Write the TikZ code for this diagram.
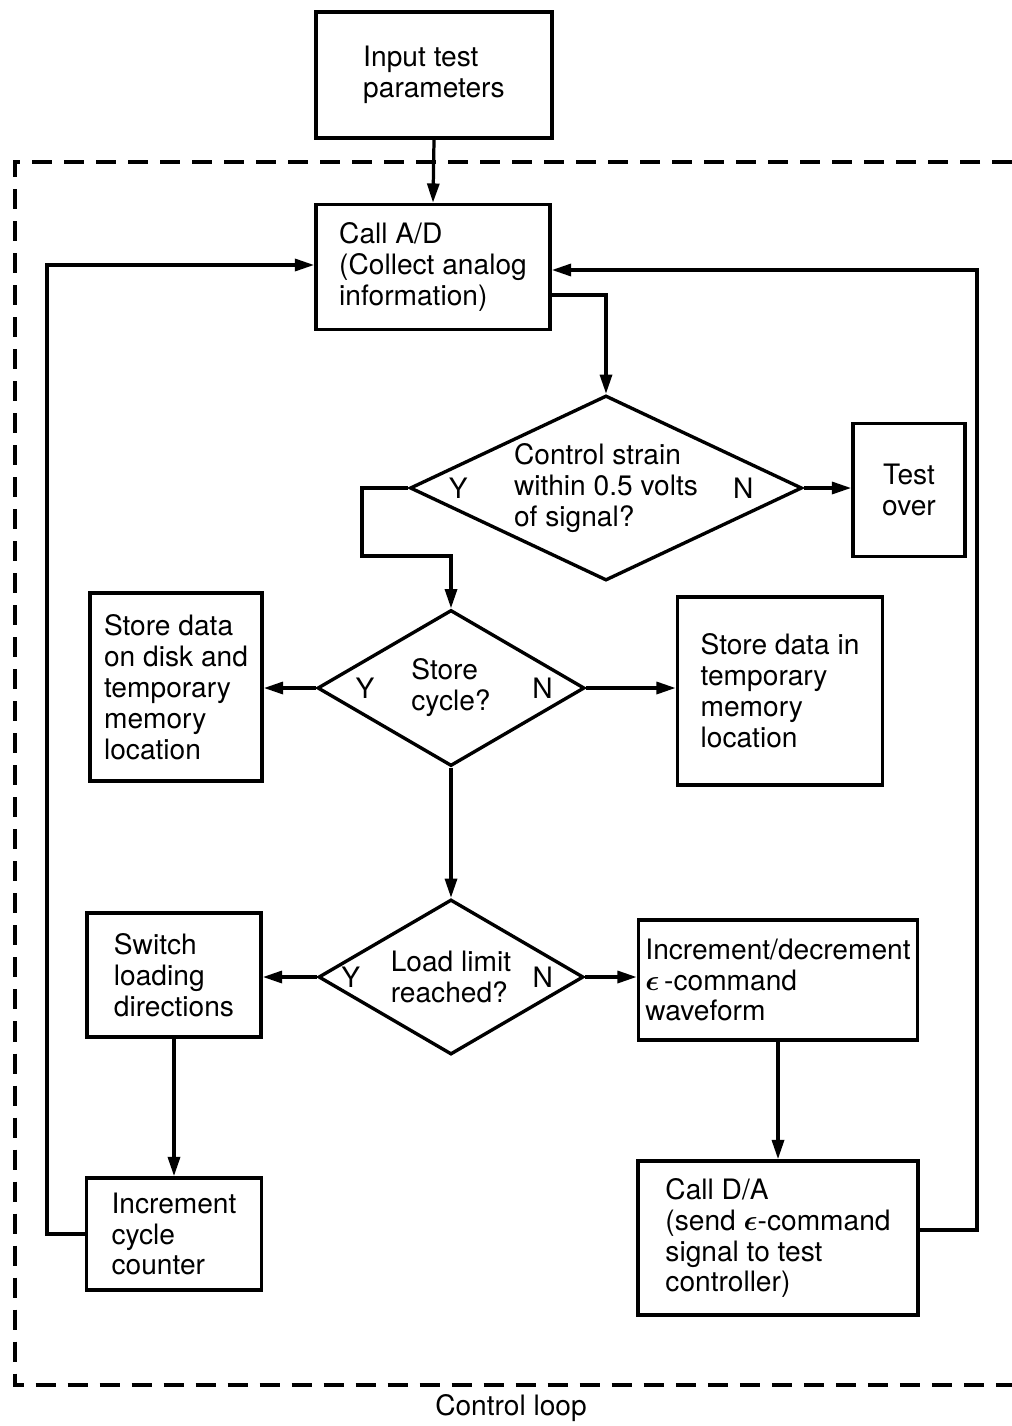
\documentclass[tikz,border=0pt]{standalone}
\usepackage{amsmath}
\usepackage{fontspec}
\setmainfont{TeX Gyre Heros}
\usepackage{tikz}
\usetikzlibrary{arrows.meta,positioning,shapes.geometric}
\tikzset{
  box/.style={draw,line width=2.6pt,align=left,inner sep=0pt},
  dia/.style={draw,diamond,line width=2.4pt,align=left,inner sep=0pt},
  arr/.style={-{Triangle[length=0.48cm,width=0.3cm]},line width=2.3pt},
  yn/.style={inner sep=0pt},
  loopline/.style={line width=2.6pt,dash pattern=on 0.5cm off 0.3cm},
}

\begin{document}
\begin{tikzpicture}[x=0.025cm,y=-0.025cm,
                    every node/.style={font=\fontsize{20}{22}\selectfont}]
\useasboundingbox (0,0) rectangle (1012,1426);

\node[box,minimum width=5.9cm,minimum height=3.15cm] (inp) at (434,75) {Input test\\parameters};
\node[box,minimum width=5.85cm,minimum height=3.125cm] (cad) at (433,267) {Call A/D\\(Collect analog\\information)};

\node[dia,aspect=2.12,minimum width=9.8cm,minimum height=4.625cm] (d1) at (606,488)
  {Control strain\\within 0.5 volts\\of signal?};
\node[box,align=center,minimum width=2.8cm,minimum height=3.325cm] (tover) at (909,490) {Test\\over};

\node[dia,aspect=1.71,minimum width=6.675cm,minimum height=3.9cm] (d2) at (451,688) {Store\\cycle?};
\node[box,minimum width=4.3cm,minimum height=4.7cm] (sdisk) at (176,687)
  {Store data\\on disk and\\temporary\\memory\\location};
\node[box,minimum width=5.125cm,minimum height=4.7cm] (stemp) at (780,691)
  {Store data in\\temporary\\memory\\location};

\node[dia,aspect=1.71,minimum width=6.625cm,minimum height=3.875cm] (d3) at (451,977) {Load limit\\reached?};
\node[box,minimum width=4.35cm,minimum height=3.1cm] (sw) at (174,975) {Switch\\loading\\directions};
\node[box,minimum width=6.975cm,minimum height=3cm] (incdec) at (778,980)
  {Increment/decrement\\$\boldsymbol{\epsilon}$\,-command\\waveform};

\node[box,minimum width=4.375cm,minimum height=2.8cm] (inccyc) at (174,1234) {Increment\\cycle\\counter};
\node[box,minimum width=7cm,minimum height=3.85cm] (cda) at (778,1238)
  {Call D/A\\(send $\boldsymbol{\epsilon}$-command\\signal to test\\controller)};

% Y / N labels
\node[yn,right=1.01cm of d1.west] (d1y) {Y};
\node[yn,left=1.25cm of d1.east]  (d1n) {N};
\node[yn,right=0.99cm of d2.west] (d2y) {Y};
\node[yn,left=0.83cm of d2.east]  (d2n) {N};
\node[yn,right=0.61cm of d3.west] (d3y) {Y};
\node[yn,left=0.8cm of d3.east]   (d3n) {N};

\coordinate (yjoin) at (362,556);
\coordinate (leftrail) at (47,265);
\coordinate (rightrail) at (977,270);

\draw[arr] (inp.south) -- (cad.north);
\draw[arr] ([yshift=-0.7cm]cad.east) -| (d1.north);
\draw[arr] (d1.east) -- (d1.east -| tover.west);
\draw[arr] (d1.west) -| (yjoin) -| (d2.north);
\draw[arr] (d2.west) -- (d2.west -| sdisk.east);
\draw[arr] (d2.east) -- (d2.east -| stemp.west);
\draw[arr] (d2.south) -- (d3.north);
\draw[arr] (d3.west) -- (d3.west -| sw.east);
\draw[arr] (d3.east) -- (d3.east -| incdec.west);
\draw[arr] (sw.south) -- (inccyc.north);
\draw[arr] (incdec.south) -- (cda.north);
\draw[arr] (inccyc.west) -| (leftrail) -- (leftrail -| cad.west);
\draw[arr] ([yshift=0.2cm]cda.east) -| (rightrail) -- (rightrail -| cad.east);

% control loop frame
\draw[loopline] (1012,162) -| (15,1385) -- (1012,1385);
\node (cloop) at (511,1408) {Control loop};
\end{tikzpicture}
\end{document}
